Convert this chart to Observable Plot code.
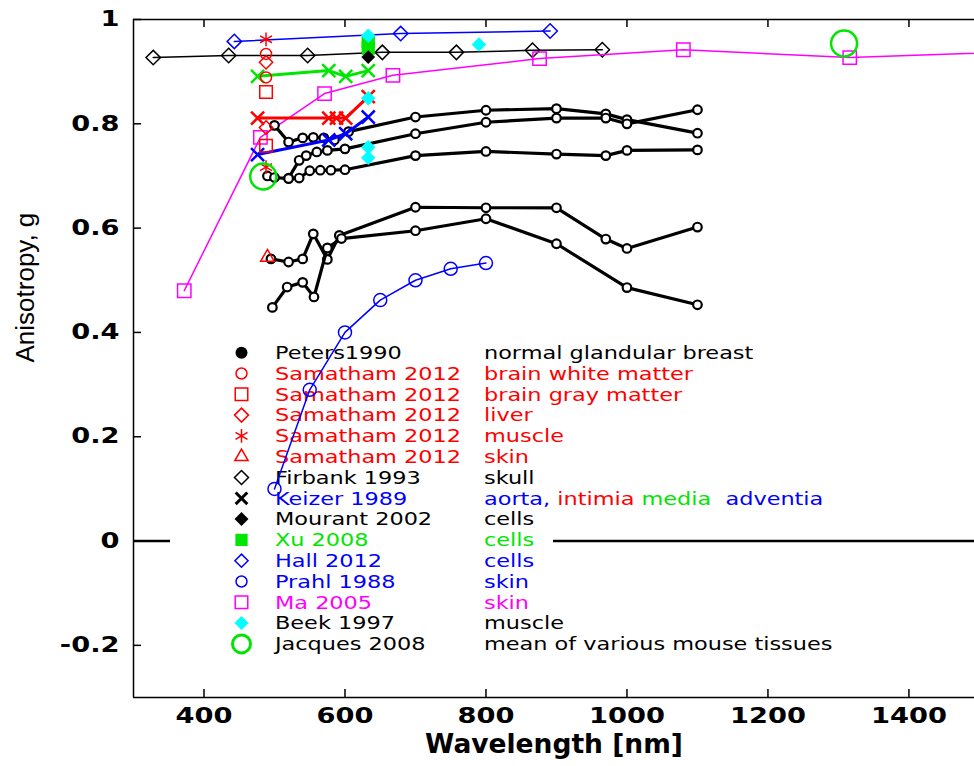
<!DOCTYPE html>
<html><head><meta charset="utf-8">
<script src="https://cdn.jsdelivr.net/npm/d3@7"></script>
<script src="https://cdn.jsdelivr.net/npm/@observablehq/plot@0.6"></script>
<style>body{margin:0;background:#fff}</style>
</head><body><div id="chart"></div>
<script>
// ---------------- DATA ----------------
const xTicks = [400, 600, 800, 1000, 1200, 1400];
const yTicks = [-0.2, 0, 0.2, 0.4, 0.6, 0.8, 1];

// Peters 1990 normal glandular breast (five curves)
const petersA_nm = [500, 520, 540, 555, 570, 585, 605, 700, 800, 900, 970, 1000, 1100];
const petersA_g  = [0.797, 0.765, 0.773, 0.774, 0.773, 0.769, 0.785, 0.813, 0.826, 0.829, 0.819, 0.808, 0.782];
const petersB_nm = [520, 535, 545, 560, 575, 600, 700, 800, 900, 970, 1000, 1100];
const petersB_g  = [0.696, 0.730, 0.739, 0.746, 0.749, 0.752, 0.781, 0.803, 0.811, 0.811, 0.800, 0.827];
const petersC_nm = [490, 500, 520, 535, 550, 565, 580, 600, 700, 800, 900, 970, 1000, 1100];
const petersC_g  = [0.700, 0.697, 0.695, 0.696, 0.710, 0.711, 0.711, 0.712, 0.739, 0.747, 0.742, 0.739, 0.749, 0.750];
const petersD_nm = [495, 520, 540, 555, 575, 592, 700, 800, 900, 970, 1000, 1100];
const petersD_g  = [0.541, 0.535, 0.541, 0.589, 0.540, 0.586, 0.640, 0.639, 0.639, 0.579, 0.561, 0.602];
const petersE_nm = [497, 518, 540, 556, 575, 595, 700, 800, 900, 1000, 1100];
const petersE_g  = [0.448, 0.487, 0.496, 0.468, 0.562, 0.580, 0.595, 0.618, 0.570, 0.486, 0.453];

// Samatham 2012
const samWhite_nm  = [488, 488];  const samWhite_g  = [0.934, 0.889];
const samGray_nm   = [488, 488];  const samGray_g   = [0.861, 0.758];
const samLiver_nm  = [488, 488];  const samLiver_g  = [0.918, 0.793];
const samMuscle_nm = [488, 488];  const samMuscle_g = [0.962, 0.717];
const samSkin_nm   = [490];       const samSkin_g   = [0.544];

// Firbank 1993 skull
const firbank_nm = [328, 435, 547, 653, 758, 866, 965];
const firbank_g  = [0.927, 0.931, 0.931, 0.937, 0.937, 0.941, 0.942];

// Keizer 1989 aorta: intima (red), media (green), adventitia (blue)
const keizerIntima_nm = [476, 577, 588, 601, 633];
const keizerIntima_g  = [0.811, 0.811, 0.811, 0.811, 0.852];
const keizerMedia_nm  = [476, 577, 601, 633];
const keizerMedia_g   = [0.891, 0.902, 0.891, 0.902];
const keizerAdvent_nm = [476, 577, 601, 633];
const keizerAdvent_g  = [0.741, 0.769, 0.781, 0.813];

// Mourant 2002 cells
const mourant_nm = [633];  const mourant_g = [0.928];
// Xu 2008 cells
const xu_nm = [633, 633];  const xu_g = [0.958, 0.945];
// Hall 2012 cells
const hall_nm = [443, 679, 891];  const hall_g = [0.958, 0.973, 0.978];
// Prahl 1988 skin
const prahl_nm = [500, 550, 600, 650, 700, 750, 800];
const prahl_g  = [0.10, 0.29, 0.40, 0.462, 0.50, 0.522, 0.533];
// Ma 2005 skin
const ma_nm = [372, 480, 571, 668, 876, 1080, 1316, 1600];
const ma_g  = [0.48, 0.774, 0.858, 0.893, 0.925, 0.942, 0.927, 0.940];
// Beek 1997 muscle
const beek_nm = [633, 633, 633, 633, 790];
const beek_g  = [0.969, 0.849, 0.755, 0.735, 0.952];
// Jacques 2008 mean of mouse tissues
const jacques_nm = [484, 1308];  const jacques_g = [0.699, 0.954];

// Legend texts
const legendNames = ["Peters1990", "Samatham 2012", "Samatham 2012", "Samatham 2012", "Samatham 2012", "Samatham 2012",
  "Firbank 1993", "Keizer 1989", "Mourant 2002", "Xu 2008", "Hall 2012", "Prahl 1988", "Ma 2005", "Beek 1997", "Jacques 2008"];
const legendDescs = ["normal glandular breast", "brain white matter", "brain gray matter", "liver", "muscle", "skin",
  "skull", "aorta, intimia media  adventia", "cells", "cells", "cells", "skin", "skin", "muscle", "mean of various mouse tissues"];
const keizerDescParts = ["aorta, ", "intimia ", "media ", " adventia"];

// ---------------- STYLE / LAYOUT ----------------
const BLACK = "#000000", RED = "#ff0000", GREEN = "#00e600", BLUE = "#0000ff", MAGENTA = "#ff00ff", CYAN = "#00ffff";
const W = 974, H = 766, mT = 19, mB = 69, mL = 133, mR = 0;
const xDom = [300, 1493], yDom = [-0.3, 1];
const nmPerPx = (xDom[1] - xDom[0]) / (W - mL - mR);
const gPerPx = (yDom[1] - yDom[0]) / (H - mT - mB);
const tlX = 8 * nmPerPx, tlY = 8 * gPerPx;

const pts = (nm, g) => nm.map((x, i) => ({x, y: g[i]}));
const line = (d, stroke, sw, extra = {}) => Plot.line(d, {x: "x", y: "y", stroke, strokeWidth: sw, ...extra});
const dot = (d, symbol, stroke, fill, r, sw, extra = {}) =>
  Plot.dot(d, {x: "x", y: "y", symbol, stroke, fill, r, strokeWidth: sw, ...extra});

// Legend (drawn inside the frame, beneath data)
const legendStyles = [
  {t: d3.symbolCircle, s: Math.PI * 36, fill: BLACK, stroke: "none", sw: 0, nc: BLACK, dc: BLACK},
  {t: d3.symbolCircle, s: Math.PI * 30, fill: "none", stroke: RED, sw: 1.5, nc: RED, dc: RED},
  {t: d3.symbolSquare2, s: 200, fill: "none", stroke: RED, sw: 1.5, nc: RED, dc: RED},
  {t: d3.symbolDiamond2, s: 125, fill: "none", stroke: RED, sw: 1.5, nc: RED, dc: RED},
  {t: d3.symbolAsterisk, s: 135, fill: "none", stroke: RED, sw: 1.5, nc: RED, dc: RED},
  {t: d3.symbolTriangle2, s: 125, fill: "none", stroke: RED, sw: 1.5, nc: RED, dc: RED},
  {t: d3.symbolDiamond2, s: 125, fill: "none", stroke: BLACK, sw: 1.5, nc: BLACK, dc: BLACK},
  {t: d3.symbolTimes, s: 90, fill: "none", stroke: BLACK, sw: 3, nc: BLUE, dc: null},
  {t: d3.symbolDiamond2, s: 125, fill: BLACK, stroke: "none", sw: 0, nc: BLACK, dc: BLACK},
  {t: d3.symbolSquare, s: 150, fill: GREEN, stroke: "none", sw: 0, nc: GREEN, dc: GREEN},
  {t: d3.symbolDiamond2, s: 110, fill: "none", stroke: BLUE, sw: 1.5, nc: BLUE, dc: BLUE},
  {t: d3.symbolCircle, s: Math.PI * 30, fill: "none", stroke: BLUE, sw: 1.5, nc: BLUE, dc: BLUE},
  {t: d3.symbolSquare2, s: 200, fill: "none", stroke: MAGENTA, sw: 1.5, nc: MAGENTA, dc: MAGENTA},
  {t: d3.symbolDiamond2, s: 125, fill: CYAN, stroke: "none", sw: 0, nc: BLACK, dc: BLACK},
  {t: d3.symbolCircle, s: Math.PI * 81, fill: "none", stroke: GREEN, sw: 3, nc: BLACK, dc: BLACK}
];
const keizerColors = [BLUE, RED, GREEN, BLUE];

function legendMark() {
  const g = d3.create("svg:g");
  g.append("rect").attr("x", 170).attr("y", 338).attr("width", 383).attr("height", 322).attr("fill", "#fff");
  const y0 = 352.7, step = 20.8, xs = 241.5, xn = 275, xd = 484, sx = 1.28;
  legendNames.forEach((name, i) => {
    const y = y0 + i * step, st = legendStyles[i];
    g.append("path").attr("d", d3.symbol(st.t, st.s)()).attr("transform", `translate(${xs},${y})`)
      .attr("fill", st.fill).attr("stroke", st.stroke).attr("stroke-width", st.sw);
    g.append("text").attr("transform", `translate(${xn},${y}) scale(${sx},1)`).attr("dy", "0.36em")
      .attr("fill", st.nc).text(name);
    const td = g.append("text").attr("transform", `translate(${xd},${y}) scale(${sx},1)`).attr("dy", "0.36em")
      .style("white-space", "pre");
    if (st.dc) td.attr("fill", st.dc).text(legendDescs[i]);
    else keizerDescParts.forEach((p, k) => td.append("tspan").attr("fill", keizerColors[k]).text(p));
  });
  g.selectAll("text").attr("font-family", "DejaVu Sans").attr("font-size", 17.5)
    .attr("font-weight", "normal").attr("text-anchor", "start");
  return g.node();
}

const plot = Plot.plot({
  width: W, height: H,
  marginTop: mT, marginBottom: mB, marginLeft: mL, marginRight: mR,
  x: {domain: xDom, label: null},
  y: {domain: yDom, label: null},
  style: {fontFamily: "DejaVu Sans", fontSize: "21px", fontWeight: "bold", color: "#000", background: "#fff", overflow: "visible"},
  marks: [
    Plot.ruleY([0], {x1: xDom[0], x2: xDom[1], stroke: BLACK, strokeWidth: 2.5}),
    legendMark,
    // frame & ticks
    Plot.ruleX([xDom[0]], {y1: yDom[0], y2: yDom[1], stroke: BLACK, strokeWidth: 1.5}),
    Plot.ruleY([yDom[0], yDom[1]], {x1: xDom[0], x2: xDom[1], stroke: BLACK, strokeWidth: 1.5}),
    Plot.ruleX(xTicks, {y1: yDom[0], y2: yDom[0] + tlY, stroke: BLACK, strokeWidth: 1.5}),
    Plot.ruleX(xTicks, {y1: yDom[1], y2: yDom[1] - tlY, stroke: BLACK, strokeWidth: 1.5}),
    Plot.ruleY(yTicks, {x1: xDom[0], x2: xDom[0] + tlX, stroke: BLACK, strokeWidth: 1.5}),
    Plot.axisX(xTicks, {tickSize: 0, tickPadding: 11, tickFormat: d => String(d), label: null}),
    Plot.axisY(yTicks, {tickSize: 0, tickPadding: 14, tickFormat: d => String(d), label: null}),
    Plot.text(["Wavelength [nm]"], {text: d => d, frameAnchor: "bottom", dy: 55, fontSize: 26.5, fontWeight: "bold", fontFamily: "DejaVu Sans"}),
    Plot.text(["Anisotropy, g"], {text: d => d, frameAnchor: "left", dx: -108, dy: 4, rotate: -90, fontSize: 26, fontWeight: "normal", fontFamily: "Liberation Sans"}),

    // Firbank
    line(pts(firbank_nm, firbank_g), BLACK, 1.5),
    dot(pts(firbank_nm, firbank_g), "diamond2", BLACK, "none", 6.5, 1.5),
    // Hall
    line(pts(hall_nm, hall_g), BLUE, 1.5),
    dot(pts(hall_nm, hall_g), "diamond2", BLUE, "none", 6.5, 1.5),
    // Ma
    line(pts(ma_nm, ma_g), MAGENTA, 1.5, {clip: true}),
    dot(pts(ma_nm, ma_g), "square2", MAGENTA, "none", 8.5, 1.5, {clip: true}),
    // Prahl
    line(pts(prahl_nm, prahl_g), BLUE, 1.5),
    dot(pts(prahl_nm, prahl_g), "circle", BLUE, "none", 6.5, 1.5),
    // Peters
    ...[[petersA_nm, petersA_g], [petersB_nm, petersB_g], [petersC_nm, petersC_g], [petersD_nm, petersD_g], [petersE_nm, petersE_g]]
      .flatMap(([n, g]) => [line(pts(n, g), BLACK, 3.2), dot(pts(n, g), "circle", BLACK, "#fff", 4.3, 2.2)]),
    // Keizer
    line(pts(keizerMedia_nm, keizerMedia_g), GREEN, 3),
    dot(pts(keizerMedia_nm, keizerMedia_g), "times", GREEN, "none", 6, 2.5),
    line(pts(keizerIntima_nm, keizerIntima_g), RED, 3),
    dot(pts(keizerIntima_nm, keizerIntima_g), "times", RED, "none", 6, 2.5),
    line(pts(keizerAdvent_nm, keizerAdvent_g), BLUE, 3),
    dot(pts(keizerAdvent_nm, keizerAdvent_g), "times", BLUE, "none", 6, 2.5),
    // Samatham
    dot(pts(samWhite_nm, samWhite_g), "circle", RED, "none", 5.5, 1.5),
    dot(pts(samGray_nm, samGray_g), "square2", RED, "none", 8, 1.5),
    dot(pts(samLiver_nm, samLiver_g), "diamond2", RED, "none", 6, 1.5),
    dot(pts(samMuscle_nm, samMuscle_g), "asterisk", RED, "none", 6.5, 1.5),
    dot(pts(samSkin_nm, samSkin_g), "triangle2", RED, "none", 6.5, 1.5),
    // Xu, Mourant, Beek
    dot(pts(xu_nm, xu_g), "square", "none", GREEN, 7.5, 0),
    dot(pts(mourant_nm, mourant_g), "diamond2", "none", BLACK, 6.2, 0),
    dot(pts(beek_nm, beek_g), "diamond2", "none", CYAN, 6.5, 0),
    // Jacques
    dot(pts(jacques_nm, jacques_g), "circle", GREEN, "none", 13, 2.5)
  ]
});

// widen numeric tick labels (the reference renders them horizontally stretched)
d3.select(plot).selectAll("text").each(function () {
  const s = this.textContent.trim();
  if (/^[-−]?\d+(\.\d+)?$/.test(s)) {
    let t = this.getAttribute("transform");
    if (!t) {
      const x = this.getAttribute("x") || 0, y = this.getAttribute("y") || 0;
      this.removeAttribute("x"); this.removeAttribute("y");
      t = `translate(${x},${y})`;
    }
    this.setAttribute("transform", t + " scale(1.3,1)");
  }
});
document.getElementById("chart").appendChild(plot);
</script>
</body></html>
